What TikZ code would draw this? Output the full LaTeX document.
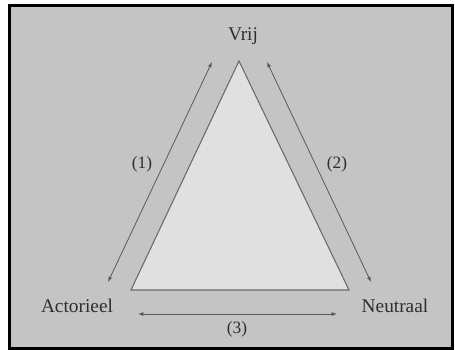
\documentclass[tikz,border=0pt]{standalone}
\usepackage{fontspec}
\setmainfont{Liberation Serif}
\usetikzlibrary{arrows.meta}
\definecolor{bggray}{HTML}{C4C4C4}
\definecolor{trifill}{HTML}{E0E0E0}
\definecolor{trieline}{HTML}{6A6A6A}
\definecolor{txt}{HTML}{2E2E2E}
\definecolor{arr}{HTML}{5A5A5A}
\begin{document}
\begin{tikzpicture}[x=0.75pt,y=-0.75pt,
  lbl/.style={text=txt,font=\fontsize{14.5}{16}\selectfont,inner sep=0pt},
  num/.style={text=txt,font=\fontsize{13}{15}\selectfont,inner sep=0pt},
  dbl/.style={draw=arr,line width=0.6pt,{Latex[length=4pt,width=3pt]}-{Latex[length=4pt,width=3pt]}}]
\useasboundingbox (0,0) rectangle (455,350);
\fill[white] (0,0) rectangle (455,350);
\draw[fill=bggray,line width=2.25pt] (9.5,5.5) rectangle (452.5,348.5);
% triangle
\coordinate (top) at (239,61);
\coordinate (bl) at (131,290);
\coordinate (br) at (349,290);
\draw[fill=trifill,draw=trieline,line width=0.8pt,line join=miter] (top) -- (bl) -- (br) -- cycle;
% labels
\node[lbl] (vrij) at (243,36) {Vrij};
\node[lbl] (act) at (77,306) {Actorieel};
\node[lbl] (neu) at (395,306) {Neutraal};
\node[num] (n1) at (142,164) {(1)};
\node[num] (n2) at (337,164) {(2)};
\node[num] (n3) at (237,329) {(3)};
% arrow endpoints
\coordinate (a1s) at (108,282);
\coordinate (a1e) at (212,62);
\coordinate (a2s) at (267,62);
\coordinate (a2e) at (371,282);
\coordinate (a3s) at (138,314);
\coordinate (a3e) at (337,314);
\draw[dbl] (a1s) -- (a1e);
\draw[dbl] (a2s) -- (a2e);
\draw[dbl] (a3s) -- (a3e);
\end{tikzpicture}
\end{document}
